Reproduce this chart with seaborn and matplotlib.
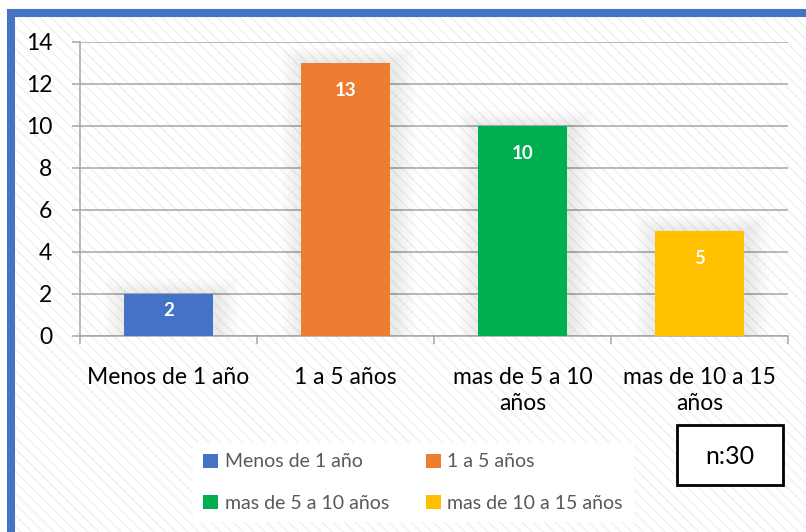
import matplotlib
matplotlib.use("Agg")
import matplotlib.pyplot as plt
import seaborn as sns
from matplotlib.patches import Rectangle, Patch

categories = ["Menos de 1 año", "1 a 5 años", "mas de 5 a 10 años", "mas de 10 a 15 años"]
tick_labels = ["Menos de 1 año", "1 a 5 años", "mas de 5 a 10\naños", "mas de 10 a 15\naños"]
values = [2, 13, 10, 5]
colors = ["#4472C4", "#ED7D31", "#00B050", "#FFC000"]

W, H = 806, 532
sns.set_theme(style="white")
plt.rcParams["font.family"] = ["Lato", "DejaVu Sans"]
plt.rcParams["hatch.linewidth"] = 1.0

fig = plt.figure(figsize=(W / 100, H / 100), dpi=100)
fig.patch.set_facecolor("white")

# hatched background and blue frame
fig.patches.append(Rectangle((15 / W, 0), 1, 1 - 17 / H, transform=fig.transFigure,
                             facecolor="white", edgecolor="#f0f0f0", hatch="\\\\\\",
                             lw=0, zorder=-10))
fig.patches.append(Rectangle((11 / W, -0.05), 1.1, 1.05 - 13 / H, transform=fig.transFigure,
                             facecolor="none", edgecolor="#4472C4", lw=5.8, zorder=-5))

ax = fig.add_axes([80 / W, 1 - 336 / H, 708 / W, 294 / H])
ax.set_facecolor("none")

sns.barplot(x=categories, y=values, hue=categories, palette=colors, width=0.5,
            legend=False, saturation=1, ax=ax, zorder=3, edgecolor="none", linewidth=0)

# soft shadow around bars
for p in ax.patches[:]:
    x0, y0, w, h = p.get_x(), p.get_y(), p.get_width(), p.get_height()
    for k in range(1, 8):
        dx = 0.018 * k
        dy = 0.1 * k
        ax.add_patch(Rectangle((x0 - dx + 0.015, y0), w + 2 * dx, h + dy,
                               facecolor="black", alpha=0.012, lw=0, zorder=2))

for p, v in zip(ax.patches, values):
    ax.text(p.get_x() + p.get_width() / 2, v - min(1.3, v * 0.4), str(v), ha="center",
            va="center", color="white", fontsize=13.5, fontweight="bold", zorder=4)

ax.set_ylim(0, 14)
ax.set_xlim(-0.5, 3.5)
ax.set_yticks(range(0, 15, 2))
ax.yaxis.grid(True, color="#a6a6a6", lw=1.1, zorder=0)
ax.set_axisbelow(True)
ax.set_xticks(range(4))
ax.set_xticklabels(tick_labels, linespacing=1.3)
ax.set_xticks([-0.5, 0.5, 1.5, 2.5, 3.5], minor=True)
ax.tick_params(axis="x", which="major", length=0, pad=22, labelsize=16.5, labelcolor="black")
ax.tick_params(axis="x", which="minor", length=6, width=1.1, color="#a6a6a6", direction="out")
ax.tick_params(axis="y", length=6, width=1.1, color="#a6a6a6", direction="out", pad=14,
               labelsize=16.5, labelcolor="black")
ax.tick_params(axis="x", bottom=True, which="both")
ax.tick_params(axis="y", left=True)
ax.set_xlabel("")
ax.set_ylabel("")
for s in ["top", "right"]:
    ax.spines[s].set_visible(False)
for s in ["left", "bottom"]:
    ax.spines[s].set_color("#a6a6a6")
    ax.spines[s].set_linewidth(1.1)

# legend is filled row by row in the reference
order = [0, 2, 1, 3]
handles = [Patch(facecolor=colors[i], edgecolor="none") for i in order]
labels = [categories[i] for i in order]
leg = fig.legend(handles, labels, ncol=2, loc="upper left",
                 bbox_to_anchor=(183 / W, 1 - 433 / H), frameon=True, fancybox=False,
                 facecolor="white", edgecolor="none", framealpha=1,
                 fontsize=14, labelcolor="#595959", handlelength=0.75, handleheight=0.75,
                 handletextpad=0.35, columnspacing=1.9, labelspacing=1.25, borderpad=0.55)

# n:30 box
fig.patches.append(Rectangle((677 / W, 1 - 485 / H), 106 / W, 60 / H, transform=fig.transFigure,
                             facecolor="white", edgecolor="black", lw=2, zorder=5))
fig.text((677 + 783) / 2 / W, 1 - 456 / H, "n:30", ha="center", va="center", fontsize=18,
         color="black", zorder=6)

fig.savefig("out.png", dpi=100)
